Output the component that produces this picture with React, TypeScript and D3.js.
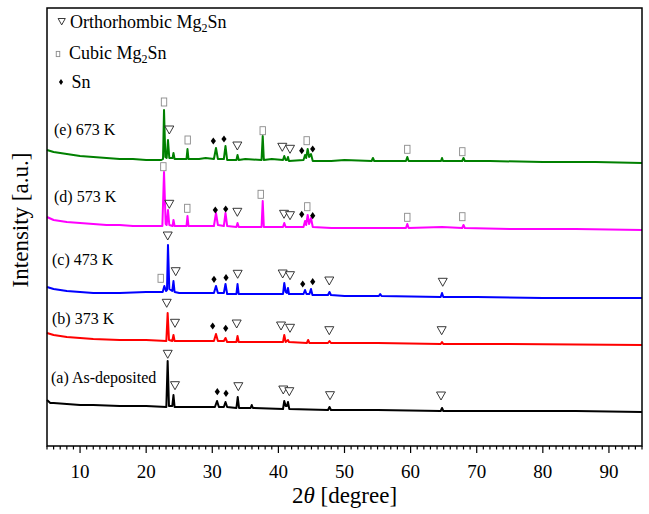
import React from 'react';
import * as d3 from 'd3';

// XRD patterns, [2theta, intensity a.u.]
const asDeposited = [[5,46],[5.5,43],[6,43],[8,42],[10,41],[12,41],[16,40],[20,40],[23.05,39],[23.25,85],[23.45,40],[23.95,40],[24.13,51],[24.3,39],[28,39],[30.4,39],[30.72,45],[31.0,39],[31.75,39],[32.0,44],[32.25,39],[33.65,38],[33.85,49],[34.05,38],[35.8,38],[35.97,41],[36.15,38],[40.7,37],[40.89,45],[41.1,40],[41.3,40],[41.45,44],[41.65,37],[47.5,36],[47.73,39],[47.95,36],[55,36],[64.55,35],[64.75,38],[64.95,35],[75,35],[85,35],[95,34]];
const k373 = [[5,113],[6,111],[8,109],[10,108],[12,107],[16,106],[20,106],[23.05,105],[23.25,133],[23.45,106],[23.95,105],[24.13,111],[24.3,105],[28,105],[30.25,105],[30.56,112],[30.85,105],[31.75,105],[32.0,108],[32.25,104],[33.65,104],[33.82,110],[34.0,104],[40.7,104],[40.89,111],[41.1,104],[41.45,106],[41.6,104],[44.3,103],[44.5,106],[44.7,103],[47.5,103],[47.73,105],[47.95,103],[55,103],[64.55,102],[64.75,104],[64.95,102],[75,102],[95,101]];
const k473 = [[5,159],[6,157],[8,155],[10,154],[12,153],[16,153],[20,154],[22.5,154],[22.75,160],[23.0,155],[23.15,156],[23.3,201],[23.5,157],[23.95,155],[24.13,165],[24.3,154],[25,153],[28,153],[30.25,153],[30.56,160],[30.85,153],[31.75,153],[32.0,162],[32.25,152],[33.65,152],[33.82,162],[34.0,152],[36,152],[40.7,152],[40.89,163],[41.1,154],[41.3,153],[41.45,158],[41.6,152],[43.8,152],[44.03,156],[44.25,152],[44.7,152],[44.93,157],[45.15,151],[47.5,151],[47.73,154],[47.95,151],[50,150],[55.2,150],[55.4,152],[55.6,150],[64.55,149],[64.75,153],[64.95,149],[70,149],[80,148],[95,148]];
const k573 = [[5,229],[6,226],[8,224],[10,223],[12,222],[14,221],[16,221],[18,220],[20,220],[22.45,220],[22.7,274],[22.95,222],[23.1,221],[23.3,236],[23.5,221],[24.0,220],[24.13,226],[24.3,220],[26.1,220],[26.25,230],[26.4,220],[28,220],[30.25,220],[30.56,233],[30.85,221],[31.75,220],[32.0,233],[32.25,220],[33.65,219],[33.82,223],[34.0,219],[37.45,219],[37.63,245],[37.8,219],[40.7,219],[40.89,223],[41.1,219],[43.8,219],[44.03,225],[44.2,221],[44.43,231],[44.65,222],[44.93,228],[45.2,219],[48,218],[54,218],[59.3,218],[59.5,222],[59.7,218],[64.75,219],[67.8,218],[68.0,221],[68.2,218],[75,217],[85,217],[95,216]];
const k673 = [[5,296],[6,294],[8,292],[10,290],[12,289],[14,288],[16,287],[18,287],[20,286],[22.3,286],[22.55,287],[22.7,336],[22.9,289],[23.1,288],[23.3,306],[23.5,288],[24.0,288],[24.13,293],[24.3,287],[26.1,287],[26.25,297],[26.4,287],[28,287],[29,288],[30.25,287],[30.56,298],[30.85,287],[31.75,287],[32.0,300],[32.25,286],[33.65,286],[33.82,291],[34.0,286],[35,287],[37.45,286],[37.63,310],[37.8,286],[39,287],[40.7,286],[40.89,290],[41.1,286],[41.3,286],[41.45,289],[41.6,285],[43.8,286],[44.03,291],[44.2,288],[44.43,297],[44.65,289],[44.93,292],[45.2,285],[48,285],[50,286],[54.1,285],[54.3,288],[54.5,285],[59.3,285],[59.5,289],[59.7,285],[64.6,285],[64.75,288],[64.9,285],[67.8,285],[68.0,288],[68.2,285],[72,285],[80,284],[88,284],[95,283]];

// phase markers [2theta, height a.u.]
const orthoMarks = [
  [23.5,316],[33.79,300],[40.59,298.7],[41.76,296.7],
  [23.5,241.7],[33.79,233.7],[40.85,231.7],[41.76,230.3],
  [23.26,210],[24.47,174.3],[33.84,171.7],[40.65,172],[41.76,170.3],[47.7,165],[64.86,163.7],
  [23.11,142.7],[24.36,122.7],[33.69,122],[40.4,120],[41.76,117.7],[47.7,115.3],[64.7,115.3],
  [23.26,91.7],[24.36,60.3],[33.94,59.3],[40.74,56],[41.65,54.3],[47.81,50.3],[64.6,50],
];
const cubicMarks = [
  [22.7,344],[26.28,306],[37.63,315.3],[44.28,305.3],[59.5,296.7],[67.82,294.3],
  [22.6,279.3],[26.22,237.7],[37.33,251.7],[44.37,239.3],[59.5,228.7],[67.82,229.3],
  [22.2,167.7],
];
const snMarks = [
  [30.16,305],[31.77,307],[43.53,295.3],[45.19,297],
  [30.46,236],[32.03,237],[43.53,231.7],[45.19,230.3],
  [30.26,166.7],[32.08,168.3],[43.68,162],[45.19,164.3],
  [30.06,120],[32.03,117.7],
  [30.76,54.3],[32.08,52.7],
];

const seriesData = [asDeposited, k373, k473, k573, k673];
const seriesColors = ['#000000', '#ff0000', '#0000ff', '#ff00ff', '#008000'];
const seriesLabels = ['(a) As-deposited', '(b) 373 K', '(c) 473 K', '(d) 573 K', '(e) 673 K'];
const labelPos = [[51, 383], [52, 324], [52, 265], [54, 202], [54, 135]];
const xTicks = [10, 20, 30, 40, 50, 60, 70, 80, 90];

const FONT = '"Liberation Serif", "Times New Roman", serif';
const W = 649, H = 514;
const m = { left: 47, right: 642, top: 8, bottom: 446 };

const Tri = ({ x, y, s = 1 }: { x: number; y: number; s?: number }) => (
  <path d={`M${x - 4.5 * s},${y - 4 * s}L${x + 4.5 * s},${y - 4 * s}L${x},${y + 4 * s}Z`}
    fill="#fff" stroke="#222" strokeWidth={0.9} />
);
const Box = ({ x, y, s = 1 }: { x: number; y: number; s?: number }) => (
  <rect x={x - 2.7 * s} y={y - 4 * s} width={5.4 * s} height={8 * s} fill="#fff" stroke="#8a8a8a" strokeWidth={0.9} />
);
const Dia = ({ x, y, s = 1 }: { x: number; y: number; s?: number }) => (
  <path d={`M${x},${y - 3.6 * s}L${x + 2.6 * s},${y}L${x},${y + 3.6 * s}L${x - 2.6 * s},${y}Z`} fill="#000" />
);

export default function App() {
  const x = d3.scaleLinear().domain([5, 95]).range([m.left, m.right]);
  const y = d3.scaleLinear().domain([0, 438]).range([m.bottom, m.top]);
  const line = d3.line<number[]>().x(d => x(d[0])).y(d => y(d[1]));
  const minor = d3.range(5, 96, 1);

  return (
    <svg width={W} height={H} style={{ position: 'absolute', left: 0, top: 0 }} fontFamily={FONT}>
      <rect width={W} height={H} fill="#fff" />
      {seriesData.map((s, i) => (
        <path key={i} d={line(s) || ''} fill="none" stroke={seriesColors[i]} strokeWidth={2} strokeLinejoin="round" />
      ))}
      {orthoMarks.map((d, i) => <Tri key={'o' + i} x={x(d[0])} y={y(d[1])} />)}
      {cubicMarks.map((d, i) => <Box key={'c' + i} x={x(d[0])} y={y(d[1])} />)}
      {snMarks.map((d, i) => <Dia key={'s' + i} x={x(d[0])} y={y(d[1])} />)}

      {seriesLabels.map((t, i) => (
        <text key={t} x={labelPos[i][0]} y={labelPos[i][1]} fontSize={16}>{t}</text>
      ))}

      {/* legend */}
      <Tri x={61.7} y={21.7} s={0.8} />
      <text x={70} y={28} fontSize={18}>Orthorhombic Mg<tspan fontSize={12} dy={4}>2</tspan><tspan dy={-4}>Sn</tspan></text>
      <Box x={58} y={54} s={0.65} />
      <text x={69} y={59} fontSize={18}>Cubic Mg<tspan fontSize={12} dy={4}>2</tspan><tspan dy={-4}>Sn</tspan></text>
      <Dia x={61} y={82} s={0.8} />
      <text x={71.5} y={88} fontSize={18}>Sn</text>

      {/* frame */}
      <rect x={m.left} y={m.top} width={m.right - m.left} height={m.bottom - m.top} fill="none" stroke="#000" strokeWidth={1.5} />
      {minor.map(t => (
        <line key={'m' + t} x1={x(t)} x2={x(t)} y1={m.bottom} y2={m.bottom + (t % 10 === 0 ? 7 : 3.5)} stroke="#000" strokeWidth={1.2} />
      ))}
      {xTicks.map(t => (
        <text key={t} x={x(t)} y={478} fontSize={19} textAnchor="middle">{t}</text>
      ))}
      <text x={(m.left + m.right) / 2} y={503} fontSize={23} textAnchor="middle">2<tspan fontStyle="italic">θ</tspan> [degree]</text>
      <text transform="translate(28,220) rotate(-90)" fontSize={23} textAnchor="middle">Intensity [a.u.]</text>
    </svg>
  );
}
